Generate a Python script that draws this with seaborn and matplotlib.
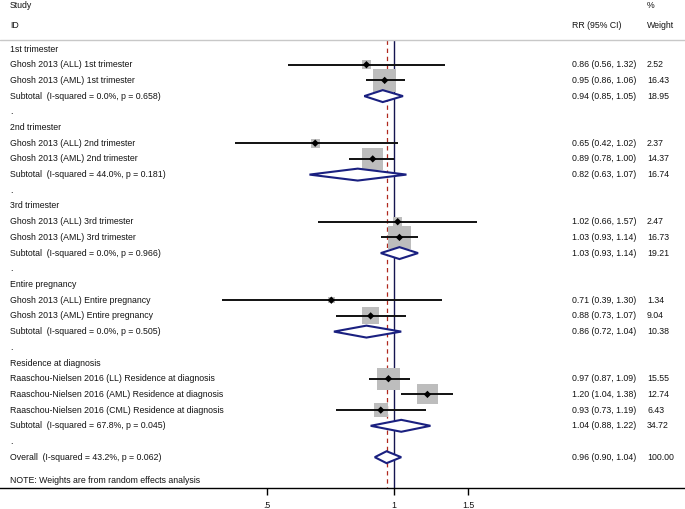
import numpy as np
import pandas as pd
import matplotlib
matplotlib.use("Agg")
import matplotlib.pyplot as plt
import seaborn as sns

# data
groups = ["1st trimester", "2nd trimester", "3rd trimester", "Entire pregnancy", "Residence at diagnosis"]
study_labels = [
    ["Ghosh 2013 (ALL) 1st trimester", "Ghosh 2013 (AML) 1st trimester"],
    ["Ghosh 2013 (ALL) 2nd trimester", "Ghosh 2013 (AML) 2nd trimester"],
    ["Ghosh 2013 (ALL) 3rd trimester", "Ghosh 2013 (AML) 3rd trimester"],
    ["Ghosh 2013 (ALL) Entire pregnancy", "Ghosh 2013 (AML) Entire pregnancy"],
    ["Raaschou-Nielsen 2016 (LL) Residence at diagnosis",
     "Raaschou-Nielsen 2016 (AML) Residence at diagnosis",
     "Raaschou-Nielsen 2016 (CML) Residence at diagnosis"],
]
study_rr = [[0.86, 0.95], [0.65, 0.89], [1.02, 1.03], [0.71, 0.88], [0.97, 1.20, 0.93]]
study_lo = [[0.56, 0.86], [0.42, 0.78], [0.66, 0.93], [0.39, 0.73], [0.87, 1.04, 0.73]]
study_hi = [[1.32, 1.06], [1.02, 1.00], [1.57, 1.14], [1.30, 1.07], [1.09, 1.38, 1.19]]
study_w = [[2.52, 16.43], [2.37, 14.37], [2.47, 16.73], [1.34, 9.04], [15.55, 12.74, 6.43]]

sub_het = ["I-squared = 0.0%, p = 0.658", "I-squared = 44.0%, p = 0.181",
           "I-squared = 0.0%, p = 0.966", "I-squared = 0.0%, p = 0.505",
           "I-squared = 67.8%, p = 0.045"]
sub_rr = [0.94, 0.82, 1.03, 0.86, 1.04]
sub_lo = [0.85, 0.63, 0.93, 0.72, 0.88]
sub_hi = [1.05, 1.07, 1.14, 1.04, 1.22]
sub_w = [18.95, 16.74, 19.21, 10.38, 34.72]

overall_het = "I-squared = 43.2%, p = 0.062"
overall_rr, overall_lo, overall_hi, overall_w = 0.96, 0.90, 1.04, 100.00

tick_vals = [0.5, 1, 1.5]
tick_labels = [".5", "1", "1.5"]

# build row table
rows = []
r = 0
for g, grp in enumerate(groups):
    rows.append(dict(row=r, kind="header", label=grp)); r += 1
    for i, lab in enumerate(study_labels[g]):
        rows.append(dict(row=r, kind="study", label=lab, rr=study_rr[g][i],
                         lo=study_lo[g][i], hi=study_hi[g][i], w=study_w[g][i])); r += 1
    rows.append(dict(row=r, kind="sub", label="Subtotal  (" + sub_het[g] + ")",
                     rr=sub_rr[g], lo=sub_lo[g], hi=sub_hi[g], w=sub_w[g])); r += 1
    rows.append(dict(row=r, kind="blank", label=".")); r += 1
rows.append(dict(row=r, kind="sub", label="Overall  (" + overall_het + ")",
                 rr=overall_rr, lo=overall_lo, hi=overall_hi, w=overall_w))
df = pd.DataFrame(rows)
studies = df[df.kind == "study"]
pooled = df[df.kind == "sub"]

sns.set_style("white")
plt.rcParams['font.family'] = ['Liberation Sans', 'DejaVu Sans']
txt_col = "#141414"
fs = 6.3

fig = plt.figure(figsize=(6.85, 5.09), dpi=100)
ax = fig.add_axes([0, 21 / 509, 1, 1 - 21 / 509])
ax.set_xscale("log")
ax.set_xlim(0.1162, 4.90)
row_h = 15.7
ax.set_ylim((488 - 49) / row_h, -49 / row_h)
top_line = (40 - 49) / row_h
x_id, x_rr, x_w = 10 / 685, 572 / 685, 647 / 685

# reference lines
ax.vlines(1, top_line, (488 - 49) / row_h, color="#141450", lw=1.0)
ax.vlines(overall_rr, top_line, (488 - 49) / row_h, color="#b0281e", lw=0.9,
          linestyles=(0, (3.5, 3)))
ax.axhline(top_line, color="#c8c8c8", lw=1.0)

# weight boxes, CIs, point estimates
sns.scatterplot(data=studies, x="rr", y="row", size="w", sizes=(studies.w.min() * 16.5, studies.w.max() * 16.5),
                size_norm=(studies.w.min(), studies.w.max()), marker="s", color="#bdbdbd",
                edgecolor="none", legend=False, ax=ax, zorder=2)
ax.hlines(studies.row, studies.lo, studies.hi, color="#111111", lw=1.4, zorder=3)
sns.scatterplot(data=studies, x="rr", y="row", marker="D", color="black", s=14,
                edgecolor="none", legend=False, ax=ax, zorder=4)

# pooled diamonds
for _, p in pooled.iterrows():
    ax.fill([p.lo, p.rr, p.hi, p.rr], [p.row, p.row - 0.38, p.row, p.row + 0.38],
            facecolor="white", edgecolor="#1a2080", lw=1.5, zorder=5)

# text columns
tr = ax.get_yaxis_transform()
for _, p in df.iterrows():
    ax.text(x_id, p.row, p.label, transform=tr, fontsize=fs, color=txt_col, va="center")
    if p.kind in ("study", "sub"):
        ax.text(x_rr, p.row, f"{p.rr:.2f} ({p.lo:.2f}, {p.hi:.2f})", transform=tr,
                fontsize=fs, color=txt_col, va="center")
        ax.text(x_w, p.row, f"{p.w:.2f}", transform=tr, fontsize=fs, color=txt_col, va="center")

ax.text(x_id, (6 - 49) / row_h, "Study", transform=tr, fontsize=fs, color=txt_col, va="center")
ax.text(x_id, (26 - 49) / row_h, "ID", transform=tr, fontsize=fs, color=txt_col, va="center")
ax.text(x_rr, (26 - 49) / row_h, "RR (95% CI)", transform=tr, fontsize=fs, color=txt_col, va="center")
ax.text(x_w, (6 - 49) / row_h, "%", transform=tr, fontsize=fs, color=txt_col, va="center")
ax.text(x_w, (26 - 49) / row_h, "Weight", transform=tr, fontsize=fs, color=txt_col, va="center")
ax.text(x_id, (480 - 49) / row_h, "NOTE: Weights are from random effects analysis",
        transform=tr, fontsize=fs, color=txt_col, va="center")

# axis
for s in ["top", "left", "right"]:
    ax.spines[s].set_visible(False)
ax.spines["bottom"].set_color("black")
ax.spines["bottom"].set_linewidth(1.0)
ax.set_xticks(tick_vals)
ax.set_xticklabels(tick_labels, fontsize=fs, color=txt_col)
ax.xaxis.set_minor_locator(matplotlib.ticker.NullLocator())
ax.tick_params(axis="x", direction="out", length=5, width=1, color="black", pad=4, bottom=True)
ax.set_yticks([])
ax.set_xlabel("")
ax.set_ylabel("")

fig.savefig("out.png", dpi=100)
